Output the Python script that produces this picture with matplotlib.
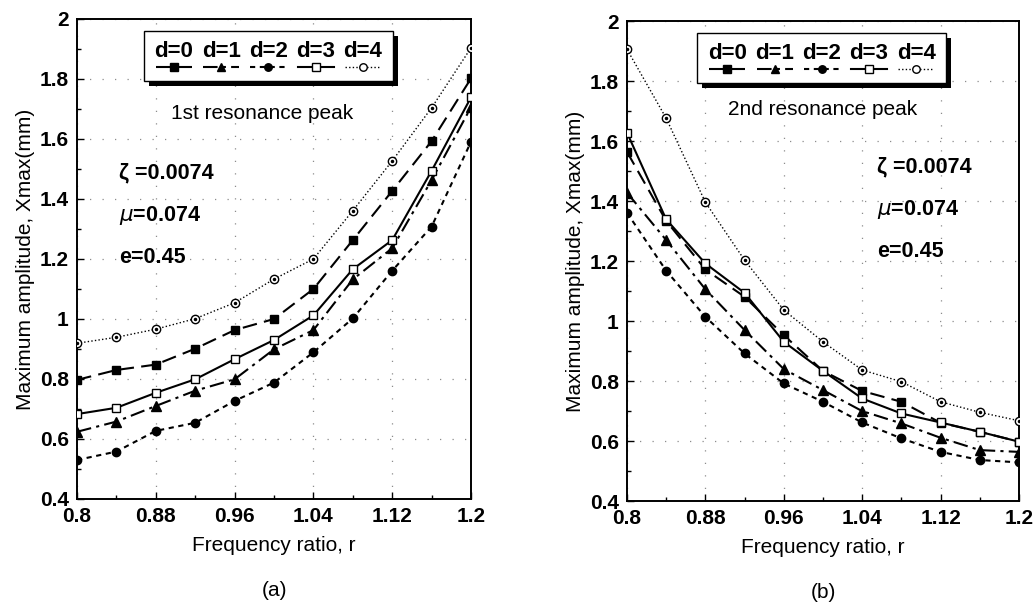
import matplotlib
matplotlib.use("Agg")
import matplotlib.pyplot as plt
from matplotlib.lines import Line2D
from matplotlib.offsetbox import TextArea, DrawingArea, VPacker, HPacker, AnchoredOffsetbox
import matplotlib.patheffects as pe
from matplotlib.ticker import MultipleLocator, FixedLocator, FixedFormatter

plt.rcParams['font.family'] = ['Liberation Sans', 'DejaVu Sans']

r = [0.80, 0.84, 0.88, 0.92, 0.96, 1.00, 1.04, 1.08, 1.12, 1.16, 1.20]

# 1st resonance peak
p1_d0 = [0.797, 0.830, 0.848, 0.901, 0.963, 1.000, 1.100, 1.263, 1.427, 1.593, 1.802]
p1_d1 = [0.624, 0.658, 0.710, 0.761, 0.799, 0.899, 0.963, 1.132, 1.236, 1.463, 1.706]
p1_d2 = [0.530, 0.558, 0.627, 0.654, 0.727, 0.788, 0.889, 1.002, 1.161, 1.308, 1.591]
p1_d3 = [0.683, 0.704, 0.754, 0.799, 0.866, 0.930, 1.012, 1.166, 1.263, 1.494, 1.739]
p1_d4 = [0.919, 0.939, 0.966, 1.001, 1.054, 1.133, 1.200, 1.361, 1.527, 1.704, 1.904]

# 2nd resonance peak
p2_d0 = [1.564, 1.334, 1.172, 1.081, 0.953, 0.834, 0.767, 0.731, 0.661, 0.631, 0.598]
p2_d1 = [1.428, 1.270, 1.106, 0.970, 0.840, 0.770, 0.700, 0.659, 0.611, 0.570, 0.564]
p2_d2 = [1.361, 1.168, 1.014, 0.892, 0.792, 0.731, 0.662, 0.609, 0.564, 0.537, 0.529]
p2_d3 = [1.628, 1.339, 1.192, 1.094, 0.931, 0.834, 0.742, 0.692, 0.662, 0.631, 0.598]
p2_d4 = [1.906, 1.676, 1.396, 1.203, 1.037, 0.931, 0.837, 0.798, 0.731, 0.696, 0.668]

labels = ["d=0", "d=1", "d=2", "d=3", "d=4"]
xticks = [0.8, 0.88, 0.96, 1.04, 1.12, 1.2]
xticklabels = ["0.8", "0.88", "0.96", "1.04", "1.12", "1.2"]
yticks = [0.4, 0.6, 0.8, 1.0, 1.2, 1.4, 1.6, 1.8, 2.0]
yticklabels = ["0.4", "0.6", "0.8", "1", "1.2", "1.4", "1.6", "1.8", "2"]

styles = [
    dict(ls=(0, (7, 3.5)), marker='s', mfc='k', mec='k', ms=6),
    dict(ls=(0, (7, 2.5, 1.5, 2.5)), marker='^', mfc='k', mec='k', ms=6.5),
    dict(ls=(0, (2.5, 2.2)), marker='o', mfc='k', mec='k', ms=6),
    dict(ls='-', marker='s', mfc='white', mec='k', ms=6),
    dict(ls=(0, (1, 1.6)), marker='o', mfc='white', mec='k', ms=6, lw_override=1.0),
]

FS = 15

fig = plt.figure(figsize=(10.35, 6.03), dpi=100)
ax1 = fig.add_axes([0.0744, 0.1725, 0.3807, 0.796])
ax2 = fig.add_axes([0.6058, 0.169, 0.3787, 0.796])


def draw(ax, series, title, title_xy, params_xy, params_dy, leg_x, panel):
    for ys, st in zip(series, styles):
        lw = st.get('lw_override', 1.5)
        ax.plot(r, ys, color='k', lw=lw, ls=st['ls'], marker=st['marker'],
                mfc=st['mfc'], mec=st['mec'], ms=st['ms'], mew=1.0, zorder=3)
    # center dots of the d=4 markers
    ax.plot(r, series[4], ls='none', marker='o', ms=1.5, color='k', zorder=4)

    ax.set_xlim(0.8, 1.2)
    ax.set_ylim(0.4, 2.0)
    ax.xaxis.set_major_locator(FixedLocator(xticks))
    ax.xaxis.set_major_formatter(FixedFormatter(xticklabels))
    ax.xaxis.set_minor_locator(MultipleLocator(0.04))
    ax.yaxis.set_major_locator(FixedLocator(yticks))
    ax.yaxis.set_major_formatter(FixedFormatter(yticklabels))
    ax.yaxis.set_minor_locator(MultipleLocator(0.1))
    ax.tick_params(which='both', direction='in', width=1.0)
    ax.tick_params(which='major', length=5, labelsize=FS)
    ax.tick_params(axis='x', which='major', pad=6)
    ax.tick_params(axis='y', which='major', pad=6)
    ax.tick_params(which='minor', length=3)
    for lab in ax.get_xticklabels() + ax.get_yticklabels():
        lab.set_fontweight('bold')
    for sp in ax.spines.values():
        sp.set_linewidth(1.4)
    ax.grid(True, which='major', color='0.55', ls=(0, (1, 9)), lw=0.9)

    ax.set_xlabel("Frequency ratio, r", fontsize=FS, labelpad=7)
    ax.set_ylabel("Maximum amplitude, Xmax(mm)", fontsize=FS, labelpad=3)

    ax.text(title_xy[0], title_xy[1], title, transform=ax.transAxes,
            ha='center', va='center', fontsize=FS)
    params = ["ζ =0.0074", "$\\mu$=0.074", "e=0.45"]
    for i, p in enumerate(params):
        ax.text(params_xy[0], params_xy[1] - i * params_dy, p,
                transform=ax.transAxes, ha='left', va='center',
                fontsize=15.5, fontweight='bold')

    # legend: label above each line sample (sizes in points)
    items = []
    for lab, st in zip(labels, styles):
        ta = TextArea(lab, textprops=dict(fontsize=16, fontweight='bold'))
        da = DrawingArea(29, 7, 0, 0)
        lw = st.get('lw_override', 1.5)
        ln = Line2D([1.5, 14.5, 27.5], [3.5, 3.5, 3.5], color='k', lw=lw,
                    ls=st['ls'], marker=st['marker'], markevery=[1],
                    mfc=st['mfc'], mec=st['mec'], ms=st['ms'] * 0.9)
        da.add_artist(ln)
        items.append(VPacker(children=[ta, da], align='center', pad=0, sep=0))
    box = HPacker(children=items, align='center', pad=0, sep=5)
    anchored = AnchoredOffsetbox(loc='upper center', child=box, pad=0.7,
                                 borderpad=0, frameon=True,
                                 bbox_to_anchor=(leg_x, 0.975),
                                 bbox_transform=ax.transAxes)
    anchored.patch.set_linewidth(1.0)
    anchored.patch.set_boxstyle('square,pad=0')
    anchored.patch.set_path_effects([
        pe.SimplePatchShadow(offset=(3.5, -3.5), shadow_rgbFace='k', alpha=1.0),
        pe.Normal()])
    anchored.set_zorder(5)
    ax.add_artist(anchored)

    ax.text(0.5, -0.19, panel, transform=ax.transAxes, ha='center', va='center',
            fontsize=FS)


draw(ax1, [p1_d0, p1_d1, p1_d2, p1_d3, p1_d4], "1st resonance peak",
     (0.47, 0.804), (0.107, 0.679), 0.088, 0.486, "(a)")
draw(ax2, [p2_d0, p2_d1, p2_d2, p2_d3, p2_d4], "2nd resonance peak",
     (0.50, 0.815), (0.638, 0.696), 0.088, 0.497, "(b)")

fig.savefig("out.png", dpi=100)
